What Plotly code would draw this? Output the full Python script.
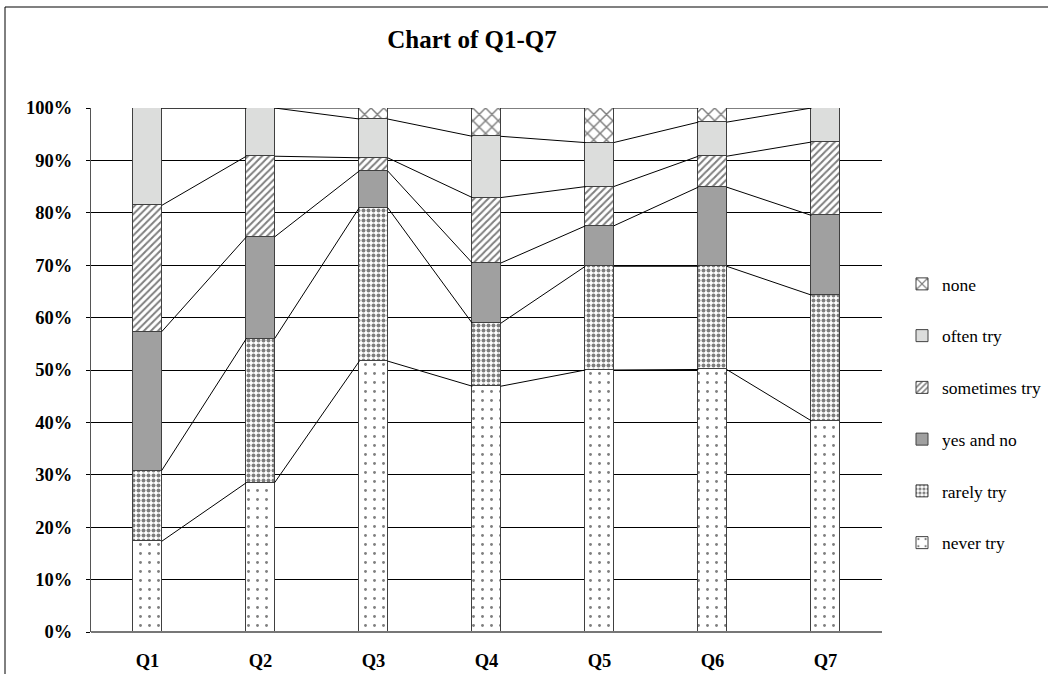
import plotly.graph_objects as go

categories = ["Q1", "Q2", "Q3", "Q4", "Q5", "Q6", "Q7"]
never_try = [17.3, 28.5, 51.7, 46.9, 50.0, 50.1, 40.3]
rarely_try = [13.5, 27.5, 29.3, 12.0, 19.8, 19.7, 24.0]
yes_and_no = [26.5, 19.4, 7.0, 11.5, 7.7, 15.1, 15.2]
sometimes_try = [24.1, 15.4, 2.5, 12.5, 7.5, 5.9, 14.0]
often_try = [18.6, 9.2, 7.4, 11.7, 8.4, 6.5, 6.5]
none = [0.0, 0.0, 2.1, 5.4, 6.6, 2.7, 0.0]

series = [
    ("never try", never_try),
    ("rarely try", rarely_try),
    ("yes and no", yes_and_no),
    ("sometimes try", sometimes_try),
    ("often try", often_try),
    ("none", none),
]

styles = {
    "never try": dict(color="white", pattern=dict(shape=".", size=9, solidity=0.08, fgcolor="black", bgcolor="white")),
    "rarely try": dict(color="white", pattern=dict(shape=".", size=5, solidity=0.5, fgcolor="black", bgcolor="white")),
    "yes and no": dict(color="#a0a0a0"),
    "sometimes try": dict(color="white", pattern=dict(shape="/", size=5, solidity=0.4, fgcolor="black", bgcolor="white")),
    "often try": dict(color="#dcdddc"),
    "none": dict(color="white", pattern=dict(shape="x", size=9, solidity=0.3, fgcolor="black", bgcolor="white")),
}

BAR_W = 0.25
xs = list(range(len(categories)))

fig = go.Figure()
n = len(series)
for k, (name, vals) in enumerate(series):
    st = styles[name]
    marker = dict(color=st["color"], line=dict(color="#404040", width=1))
    if "pattern" in st:
        marker["pattern"] = st["pattern"]
    fig.add_trace(go.Bar(
        x=xs, y=vals, name=name, width=BAR_W, marker=marker,
        legendgroup=name, legendrank=n - k,
    ))

# series lines connecting cumulative tops
lx, ly = [], []
cum = [0.0] * len(categories)
for name, vals in series:
    cum = [c + v for c, v in zip(cum, vals)]
    for i in range(len(categories) - 1):
        lx += [xs[i] + BAR_W / 2, xs[i + 1] - BAR_W / 2, None]
        ly += [cum[i], cum[i + 1], None]
fig.add_trace(go.Scatter(x=lx, y=ly, mode="lines", line=dict(color="black", width=1),
                         showlegend=False, hoverinfo="skip"))

L, R, T, B = 91, 166, 108, 42
W, H = 1048, 674
pw, ph = W - L - R, H - T - B

def px_x(p):
    return (p - L) / pw

def px_y(p):
    return (H - B - p) / ph

tickfont = dict(family="Liberation Serif", size=18.5, color="black", weight="bold")

fig.update_layout(
    width=W, height=H,
    margin=dict(l=L, r=R, t=T, b=B, autoexpand=False),
    barmode="stack",
    paper_bgcolor="white", plot_bgcolor="white",
    font=dict(family="Liberation Serif", color="black"),
    title=dict(text="Chart of Q1-Q7", x=472 / W, xanchor="center", y=1 - 39 / H, yanchor="middle",
               font=dict(family="Liberation Serif", size=25, color="black", weight="bold")),
    legend=dict(traceorder="grouped", x=px_x(902), xanchor="left", y=px_y(266), yanchor="top",
                font=dict(family="Liberation Serif", size=17.5, color="black"),
                tracegroupgap=26, itemwidth=30, bgcolor="rgba(0,0,0,0)"),
    showlegend=True,
    xaxis=dict(range=[-0.5, 6.5], tickmode="array", tickvals=xs, ticktext=categories,
               showgrid=False, zeroline=False, showline=False, ticks="",
               ticklabelstandoff=15, tickfont=tickfont),
    yaxis=dict(range=[0, 100], dtick=10, ticksuffix="%", showgrid=True, gridcolor="black", gridwidth=1,
               zeroline=False, showline=True, linecolor="#555555", linewidth=1,
               ticks="outside", ticklen=4, tickcolor="black",
               ticklabelstandoff=10, tickfont=tickfont),
    bargap=0,
)

# baseline at 0% (gray, slightly thicker)
fig.add_shape(type="line", xref="paper", yref="paper", x0=0, x1=1, y0=0, y1=0,
              line=dict(color="#777777", width=2))
# outer chart border (top and left)
fig.add_shape(type="line", xref="paper", yref="paper", x0=px_x(5), x1=px_x(1100), y0=px_y(7), y1=px_y(7),
              line=dict(color="#808080", width=2))
fig.add_shape(type="line", xref="paper", yref="paper", x0=px_x(5), x1=px_x(5), y0=px_y(7), y1=px_y(700),
              line=dict(color="black", width=1))

fig.write_html("out.html", config={"displayModeBar": False},
               post_script="document.body.style.margin='0';")
